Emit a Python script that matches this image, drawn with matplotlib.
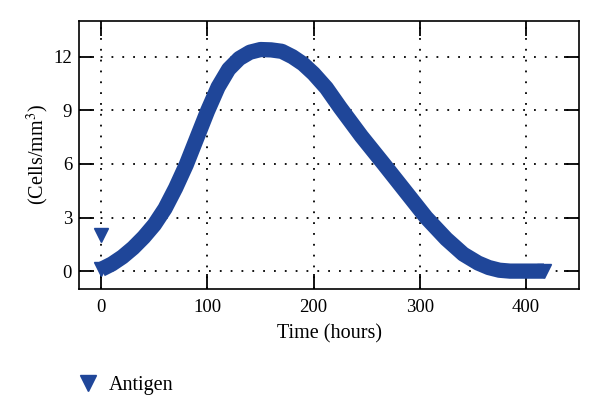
import matplotlib
matplotlib.use("Agg")
import matplotlib.pyplot as plt
from matplotlib.lines import Line2D

# ---- data ----
time_hours = [0, 10, 20, 30, 40, 50, 60, 70, 80, 90, 100, 110, 120, 130, 140,
              150, 160, 170, 180, 190, 200, 212, 225, 245, 266, 286, 306, 325,
              341, 355, 365, 375, 385, 400, 417]
cells = [0.1, 0.4, 0.8, 1.3, 1.9, 2.6, 3.5, 4.65, 5.95, 7.45, 8.95, 10.3, 11.3,
         11.9, 12.25, 12.4, 12.38, 12.3, 12.0, 11.6, 11.05, 10.25, 9.15, 7.55,
         6.0, 4.5, 3.0, 1.8, 0.95, 0.45, 0.2, 0.05, 0.0, 0.0, 0.0]
antigen_time = [0]
antigen_value = [2]
xticks = [0, 100, 200, 300, 400]
yticks = [0, 3, 6, 9, 12]
legend_label = "Antigen"

BLUE = "#1f4699"
plt.rcParams['font.family'] = ['Liberation Serif', 'DejaVu Serif']
plt.rcParams['mathtext.fontset'] = 'stix'

fig = plt.figure(figsize=(6.0, 4.19), dpi=100)
ax = fig.add_axes([0.1317, 0.3103, 0.8333, 0.6397])

ax.plot(time_hours, cells, color=BLUE, lw=11, solid_capstyle='butt',
        solid_joinstyle='round', marker='v', ms=10.5, mew=1,
        markevery=[0, len(time_hours) - 1], zorder=3)
ax.plot(antigen_time, antigen_value, ls='none', marker='v', ms=10, mew=1, color=BLUE, zorder=3)

ax.set_xlim(-21, 450)
ax.set_ylim(-1, 14)
ax.set_xticks(xticks)
ax.set_yticks(yticks)
ax.tick_params(direction='in', length=11, width=1.3, top=True, right=True,
               labelsize=13.5, pad=7, colors='black')
ax.tick_params(axis='y', pad=5)
for s in ax.spines.values():
    s.set_linewidth(1.2)
ax.grid(True, color='black', ls=(0, (1, 5)), lw=1.3)
ax.set_axisbelow(True)

ax.set_xlabel("Time (hours)", fontsize=14.5, labelpad=6)
ax.set_ylabel("(Cells/mm$^3$)", fontsize=14.5, labelpad=2)

handle = Line2D([], [], ls='none', marker='v', ms=11, mew=1, color=BLUE)
fig.legend([handle], [legend_label], loc='center left', bbox_to_anchor=(0.10, 0.08),
           frameon=False, fontsize=14.5, handletextpad=0.5, handlelength=1.0)

fig.savefig("out.png", dpi=100)
